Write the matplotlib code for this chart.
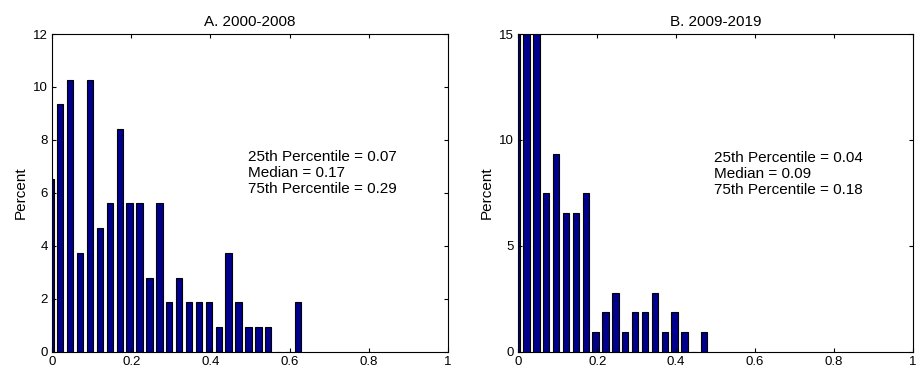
import numpy as np
import matplotlib.pyplot as plt

plt.rcParams['font.family'] = ['Liberation Sans', 'DejaVu Sans']

# bin centres (first bin sits just left of zero)
bins_a = np.arange(26) * 0.025 - 0.004
pct_a = [6.54, 9.35, 10.28, 3.74, 10.28, 4.67, 5.61, 8.41, 5.61, 5.61, 2.80, 5.61, 1.87,
         2.80, 1.87, 1.87, 1.87, 0.93, 3.74, 1.87, 0.93, 0.93, 0.93, 0.0, 0.0, 1.87]

bins_b = np.arange(20) * 0.025 - 0.004
pct_b = [16.8, 17.8, 15.9, 7.48, 9.35, 6.54, 6.54, 7.48, 0.93, 1.87, 2.80, 0.93, 1.87,
         1.87, 2.80, 0.93, 1.87, 0.93, 0.0, 0.93]

titles = ["A. 2000-2008", "B. 2009-2019"]
notes = ["25th Percentile = 0.07\nMedian = 0.17\n75th Percentile = 0.29",
         "25th Percentile = 0.04\nMedian = 0.09\n75th Percentile = 0.18"]
ylims = [12, 15]
yticks = [np.arange(0, 13, 2), np.arange(0, 16, 5)]
note_y = [7.62, 9.5]

fig = plt.figure(figsize=(9.22, 3.72), dpi=100)
ax1 = fig.add_axes([0.0564, 0.0538, 0.4296, 0.8548])
ax2 = fig.add_axes([0.5621, 0.0538, 0.4282, 0.8548])

for ax, x, y, t, note, yl, yt, ny in zip([ax1, ax2], [bins_a, bins_b], [pct_a, pct_b],
                                         titles, notes, ylims, yticks, note_y):
    ax.bar(x, y, width=0.016, color='#00008C', edgecolor='black', linewidth=0.8)
    ax.set_xlim(0, 1)
    ax.set_ylim(0, yl)
    ax.set_xticks([0, 0.2, 0.4, 0.6, 0.8, 1])
    ax.set_xticklabels(['0', '0.2', '0.4', '0.6', '0.8', '1'])
    ax.set_yticks(yt)
    ax.tick_params(direction='in', top=True, right=True, labelsize=9.5, length=3, pad=3)
    ax.set_ylabel('Percent', fontsize=11, labelpad=4)
    ax.set_title(t, fontsize=11, pad=6)
    ax.text(0.495, ny, note, fontsize=11, va='top', ha='left', linespacing=1.2)
    for s in ax.spines.values():
        s.set_linewidth(0.8)

fig.savefig('out.png', dpi=100)
